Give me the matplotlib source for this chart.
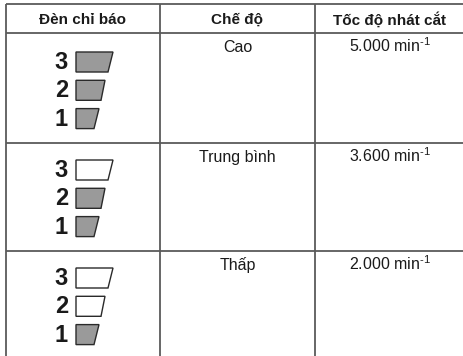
import matplotlib
matplotlib.use("Agg")
from matplotlib import pyplot as plt
from matplotlib.patches import Polygon

plt.rcParams['font.family'] = ['Liberation Sans', 'DejaVu Sans']
plt.rcParams['mathtext.fontset'] = 'custom'
plt.rcParams['mathtext.rm'] = 'Liberation Sans'
plt.rcParams['mathtext.default'] = 'rm'

headers = ['Đèn chỉ báo', 'Chế độ', 'Tốc độ nhát cắt']
modes = ['Cao', 'Trung bình', 'Thấp']
speeds = ['5.000', '3.600', '2.000']
lamp_labels = ['3', '2', '1']
# lit state of lamps 3, 2, 1 for each row
lamps_on = [[True, True, True],
            [False, True, True],
            [False, False, True]]

W, H = 464, 356
col_x = [6, 160, 315, W]
row_y = [4, 33, 143, 251, H + 5]

fig = plt.figure(figsize=(W / 100, H / 100), dpi=100)
ax = fig.add_axes([0, 0, 1, 1])
ax.set_xlim(0, W)
ax.set_ylim(H, 0)
ax.axis('off')

line_c = '#5a5a5a'
for y in row_y[:-1]:
    ax.plot([col_x[0], W], [y, y], color=line_c, lw=1.3, solid_capstyle='butt')
for x in col_x[:-1]:
    ax.plot([x, x], [row_y[0], H], color=line_c, lw=1.3, solid_capstyle='butt')

hy = (row_y[0] + row_y[1]) / 2 + 1.5
for i, h in enumerate(headers):
    cx = (col_x[i] + col_x[i + 1]) / 2
    ax.text(cx, hy, h, ha='center', va='center', fontsize=11, fontweight='bold', color='#1a1a1a')

# trapezoid widths (top, bottom) for lamps 3, 2, 1
trap_top = [37, 29, 23]
trap_bot = [32, 25, 18]
for r in range(3):
    top = row_y[r + 1]
    off = 19 if r == 0 else 17
    for k in range(3):
        y0 = top + off + k * 28.3
        y1 = y0 + 20
        x0 = 76
        poly = Polygon([(x0, y0), (x0 + trap_top[k], y0), (x0 + trap_bot[k], y1), (x0, y1)],
                       closed=True, facecolor='#9a9a9a' if lamps_on[r][k] else 'white',
                       edgecolor='#2a2a2a', lw=1.0)
        ax.add_patch(poly)
        ax.text(68, (y0 + y1) / 2 + 0.5, lamp_labels[k], ha='right', va='center',
                fontsize=17, fontweight='bold', color='#1a1a1a')
    ty = top + 19
    ax.text((col_x[1] + col_x[2]) / 2, ty, modes[r], ha='center', va='baseline',
            fontsize=11.5, color='#1a1a1a')
    ax.text((col_x[2] + col_x[3]) / 2, ty, speeds[r] + r' min$^{\text{-1}}$', ha='center',
            va='baseline', fontsize=11.5, color='#1a1a1a')

fig.savefig('out.png', dpi=100, facecolor='white')
